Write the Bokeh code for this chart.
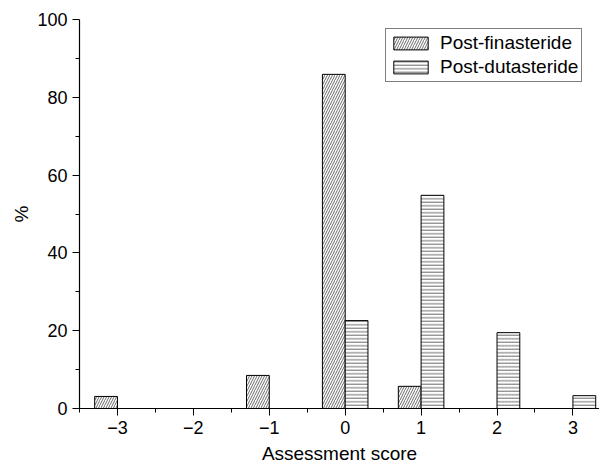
from bokeh.plotting import figure
from bokeh.models import ColumnDataSource, FixedTicker, Legend, LegendItem, Range1d
from bokeh.embed import file_html
from bokeh.resources import INLINE

scores = [-3, -2, -1, 0, 1, 2, 3]
finasteride = [3.1, 0, 8.5, 85.9, 5.7, 0, 0]
dutasteride = [0, 0, 0, 22.6, 54.8, 19.5, 3.3]
xtick_labels = ["\u22123", "\u22122", "\u22121", "0", "1", "2", "3"]
ytick_values = [0, 20, 40, 60, 80, 100]
series_names = ["Post-finasteride", "Post-dutasteride"]

FONT = "Liberation Sans"
bw = 0.3

p = figure(frame_width=520, frame_height=389, min_border_left=79, min_border_top=19,
           min_border_bottom=56, min_border_right=0,
           x_range=Range1d(-3.5, 3.35), y_range=Range1d(0, 100),
           output_backend="svg", toolbar_location=None)
p.outline_line_color = None
p.grid.visible = False
p.background_fill_color = "white"
p.border_fill_color = "white"

src = ColumnDataSource(dict(
    xf=[s - bw / 2 for s in scores],
    xd=[s + bw / 2 for s in scores],
    f=finasteride, d=dutasteride))

rf = p.vbar(x="xf", top="f", width=bw, source=src, fill_color="white",
            line_color="black", line_width=1, hatch_pattern="/",
            hatch_color="#444444", hatch_scale=5, hatch_weight=0.8)
rd = p.vbar(x="xd", top="d", width=bw, source=src, fill_color="white",
            line_color="black", line_width=1, hatch_pattern="-",
            hatch_color="#444444", hatch_scale=3.5, hatch_weight=0.8)

for ax in (p.xaxis[0], p.yaxis[0]):
    ax.axis_line_color = "black"
    ax.axis_line_width = 1.2
    ax.major_tick_line_color = "black"
    ax.minor_tick_line_color = "black"
    ax.major_tick_in = 0
    ax.major_tick_out = 7
    ax.minor_tick_in = 0
    ax.minor_tick_out = 4
    ax.major_label_text_font = FONT
    ax.major_label_text_font_size = "18px"
    ax.major_label_text_color = "black"
    ax.axis_label_text_font = FONT
    ax.axis_label_text_font_size = "19px"
    ax.axis_label_text_font_style = "normal"
    ax.axis_label_text_color = "black"

p.xaxis.ticker = FixedTicker(ticks=scores, minor_ticks=[s + 0.5 for s in scores[:-1]] + [-3.5])
p.xaxis.major_label_overrides = {s: lab for s, lab in zip(scores, xtick_labels)}
p.xaxis.axis_label = "Assessment score"
p.xaxis.axis_label_standoff = 6
p.xaxis.major_label_standoff = 5
p.yaxis.ticker = FixedTicker(ticks=ytick_values, minor_ticks=[10, 30, 50, 70, 90])
p.yaxis.axis_label = "%"
p.yaxis.axis_label_standoff = 2
p.yaxis.major_label_standoff = 5

legend = Legend(items=[LegendItem(label=series_names[0], renderers=[rf]),
                       LegendItem(label=series_names[1], renderers=[rd])],
                location=(306, 326))
legend.border_line_color = "black"
legend.border_line_width = 1
legend.background_fill_alpha = 1
legend.label_text_font = FONT
legend.label_text_font_size = "19px"
legend.label_text_color = "black"
legend.glyph_width = 43
legend.glyph_height = 16
legend.label_height = 20
legend.spacing = 2
legend.padding = 3
legend.margin = 0
legend.label_standoff = 8
p.add_layout(legend, "center")

open("out.html", "w").write(file_html(p, INLINE))
